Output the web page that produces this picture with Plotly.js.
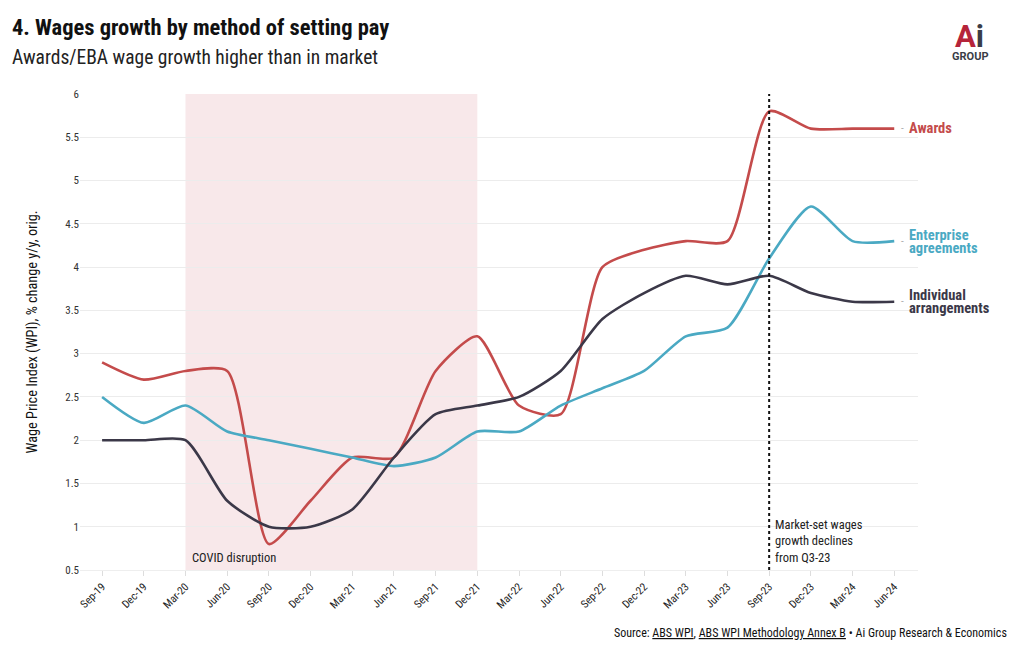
<!DOCTYPE html>
<html><head><meta charset="utf-8">
<script src="https://cdn.plot.ly/plotly-3.0.1.min.js"></script>
<style>html,body{margin:0;padding:0;background:#fff}#chart{width:1020px;height:650px}</style>
</head><body><div id="chart"></div>
<script>
const quarters = ["Sep-19","Dec-19","Mar-20","Jun-20","Sep-20","Dec-20","Mar-21","Jun-21","Sep-21","Dec-21","Mar-22","Jun-22","Sep-22","Dec-22","Mar-23","Jun-23","Sep-23","Dec-23","Mar-24","Jun-24"];
const awards     = [2.9,2.7,2.8,2.8,0.8,1.3,1.8,1.8,2.8,3.2,2.4,2.3,4.0,4.2,4.3,4.3,5.8,5.6,5.6,5.6];
const enterprise = [2.5,2.2,2.4,2.1,2.0,1.9,1.8,1.7,1.8,2.1,2.1,2.4,2.6,2.8,3.2,3.3,4.1,4.7,4.3,4.3];
const individual = [2.0,2.0,2.0,1.3,1.0,1.0,1.2,1.8,2.3,2.4,2.5,2.8,3.4,3.7,3.9,3.8,3.9,3.7,3.6,3.6];
const yTicks = [0.5,1,1.5,2,2.5,3,3.5,4,4.5,5,5.5,6];
const seriesLabels = [["Awards"],["Enterprise","agreements"],["Individual","arrangements"]];
const covidStart = "Mar-20", covidEnd = "Dec-21", markerQ = "Sep-23";

const FONT = "Roboto Condensed, Liberation Sans Narrow, DejaVu Sans Condensed, Roboto, sans-serif";
const cols = ["#c44b4b","#4aa9c3","#3b3848"];
const xs = quarters.map((q,i)=>i);
const idx = q => quarters.indexOf(q);

const traces = [awards,enterprise,individual].map((ys,k)=>({
  x: xs, y: ys, type:"scatter", mode:"lines",
  line:{color:cols[k], width:2.6, shape:"spline", smoothing:0.65},
  hoverinfo:"skip", showlegend:false
}));

const lastI = quarters.length-1;
const annotations = [
  {xref:"paper",yref:"paper",x:-0.084,y:0.141,xanchor:"left",yanchor:"middle",showarrow:false,
   text:"<b>4. Wages growth by method of setting pay</b>",font:{family:FONT,size:22.5,color:"#111"}},
  {xref:"paper",yref:"paper",x:-0.084,y:0.076,xanchor:"left",yanchor:"middle",showarrow:false,
   text:"Awards/EBA wage growth higher than in market",font:{family:FONT,size:19.5,color:"#222"}},
  {xref:"x",yref:"y",x:idx(covidStart)+0.12,y:0.53,xanchor:"left",yanchor:"bottom",showarrow:false,
   text:"COVID disruption",font:{family:FONT,size:12.5,color:"#222"}},
  {xref:"x",yref:"y",x:idx(markerQ)+0.1,y:0.53,xanchor:"left",yanchor:"bottom",showarrow:false,align:"left",
   text:"Market-set wages<br>growth declines<br>from Q3-23",font:{family:FONT,size:12.5,color:"#222"}},
  {xref:"paper",yref:"paper",x:1.1086,y:-0.132,xanchor:"right",yanchor:"middle",showarrow:false,
   text:"Source: <span style='text-decoration:underline'>ABS WPI</span>, <span style='text-decoration:underline'>ABS WPI Methodology Annex B</span> • Ai Group Research & Economics",
   font:{family:FONT,size:12,color:"#111"}},
  {xref:"paper",yref:"paper",x:1.062,y:1.121,xanchor:"center",yanchor:"middle",showarrow:false,
   text:"<b><span style='color:#b5243a'>A</span><span style='color:#3a3d47'>i</span></b>",font:{family:"Roboto, sans-serif",size:31}},
  {xref:"paper",yref:"paper",x:1.062,y:1.078,xanchor:"center",yanchor:"middle",showarrow:false,
   text:"<b>GROUP</b>",font:{family:"Roboto, sans-serif",size:11,color:"#3a3d47"}}
];
[awards,enterprise,individual].forEach((ys,k)=>{
  const lines = seriesLabels[k];
  lines.forEach((t,j)=>{
    const shift = lines.length===1 ? 0 : (j===0 ? 6 : -7);
    annotations.push({xref:"x",yref:"y",x:lastI,y:ys[lastI],xanchor:"left",yanchor:"middle",showarrow:false,
      xshift:13,yshift:shift,text:"<b>"+t+"</b>",font:{family:FONT,size:14.5,color:cols[k]}});
  });
  annotations.push({xref:"x",yref:"y",x:lastI,y:ys[lastI],xanchor:"left",yanchor:"middle",showarrow:false,
    xshift:5,text:"-",font:{family:FONT,size:11,color:"#aaa"}});
});

const layout = {
  width:1020,height:650,
  margin:{l:80,r:102,t:94,b:80},
  paper_bgcolor:"#fff",plot_bgcolor:"#fff",
  font:{family:FONT,color:"#333"},
  xaxis:{
    range:[-0.53,lastI+0.57], tickmode:"array", tickvals:xs, ticktext:quarters,
    tickangle:-45, tickfont:{size:11,color:"#222"}, showgrid:false, zeroline:false,
    ticks:"outside", ticklen:5, tickcolor:"#ddd", showline:true, linecolor:"#eee", fixedrange:true
  },
  yaxis:{
    range:[0.5,6], tickmode:"array", tickvals:yTicks, ticktext:yTicks.map(String),
    tickfont:{size:11,color:"#333"}, showgrid:true, gridcolor:"#ececec", zeroline:false,
    showline:false, ticks:"", fixedrange:true,
    title:{text:"Wage Price Index (WPI), % change y/y, orig.",font:{family:FONT,size:14.3,color:"#111"},standoff:24}
  },
  shapes:[
    {type:"rect",xref:"x",yref:"paper",x0:idx(covidStart),x1:idx(covidEnd),y0:0,y1:1,
     fillcolor:"#f8e8ea",line:{width:0},layer:"below"},
    {type:"line",xref:"x",yref:"paper",x0:idx(markerQ),x1:idx(markerQ),y0:0,y1:1,
     line:{color:"#111",width:2,dash:"dot"}}
  ],
  annotations:annotations
};
layout.annotations[0].y = 1.141; layout.annotations[1].y = 1.076;
Plotly.newPlot("chart",traces,layout,{displayModeBar:false,staticPlot:true});
</script></body></html>
